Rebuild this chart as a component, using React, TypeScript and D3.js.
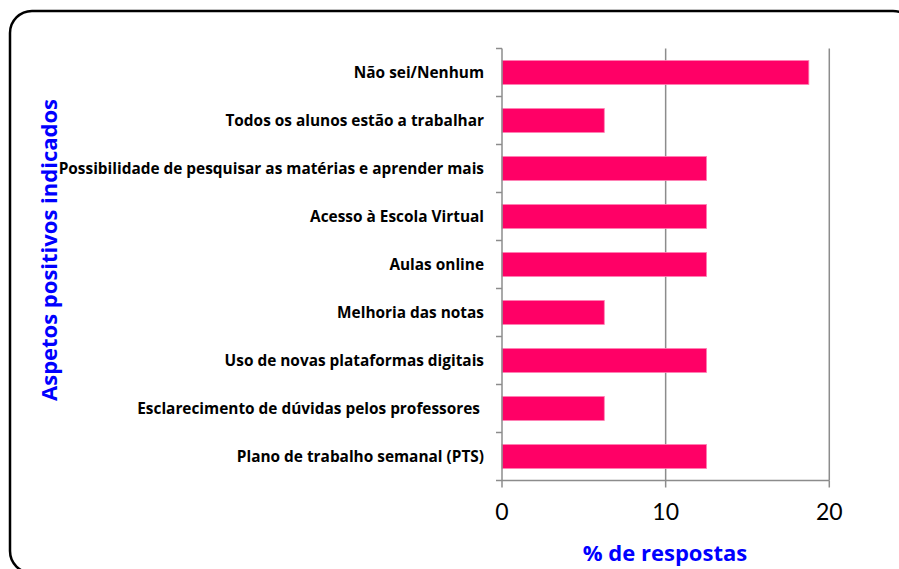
import React from "react";
import * as d3 from "d3";

const categories = [
  "Não sei/Nenhum",
  "Todos os alunos estão a trabalhar",
  "Possibilidade de pesquisar as matérias e aprender mais",
  "Acesso à Escola Virtual",
  "Aulas online",
  "Melhoria das notas",
  "Uso de novas plataformas digitais",
  "Esclarecimento de dúvidas pelos professores ",
  "Plano de trabalho semanal (PTS)",
];
const values = [18.75, 6.25, 12.5, 12.5, 12.5, 6.25, 12.5, 6.25, 12.5];
const xTicks = [0, 10, 20];
const xTitle = "% de respostas";
const yTitle = "Aspetos positivos indicados";

const W = 899;
const H = 569;
const font = "'Open Sans', sans-serif";
const tickFont = "Lato, sans-serif";

export default function App() {
  const x = d3.scaleLinear().domain([0, 20]).range([502, 829.3]);
  const y = d3
    .scaleBand<string>()
    .domain(categories)
    .range([48.5, 480.5])
    .paddingInner(0.5)
    .paddingOuter(0.25);
  const bandStep = y.step();
  const gridColor = "#8c8c8c";
  const bottom = 480.5;
  const top = 48.5;

  return (
    <svg
      width={W}
      height={H}
      style={{ position: "absolute", left: 0, top: 0, background: "#fff" }}
    >
      <rect x={10} y={11} width={905} height={562} rx={22} ry={22} fill="#fff" stroke="#000" strokeWidth={2.5} />
      {xTicks.slice(1).map((t) => (
        <line key={"g" + t} x1={x(t)} x2={x(t)} y1={top} y2={bottom} stroke={gridColor} strokeWidth={1.5} />
      ))}
      {categories.map((c, i) => (
        <rect
          key={c}
          x={x(0)}
          y={y(c)!}
          width={x(values[i]) - x(0)}
          height={y.bandwidth()}
          fill="#FF0066"
          stroke="#ff80b3"
          strokeWidth={0.8}
        />
      ))}
      <line x1={x(0)} x2={x(0)} y1={top} y2={bottom} stroke={gridColor} strokeWidth={1.5} />
      {d3.range(categories.length + 1).map((i) => (
        <line
          key={"yt" + i}
          x1={x(0) - 6}
          x2={x(0)}
          y1={top + i * bandStep}
          y2={top + i * bandStep}
          stroke={gridColor}
          strokeWidth={1.5}
        />
      ))}
      <line x1={x(0)} x2={x(20)} y1={bottom} y2={bottom} stroke={gridColor} strokeWidth={1.5} />
      {xTicks.map((t) => (
        <g key={"xt" + t}>
          <line x1={x(t)} x2={x(t)} y1={bottom} y2={bottom + 7} stroke={gridColor} strokeWidth={1.5} />
          <text x={x(t)} y={520} textAnchor="middle" fontFamily={tickFont} fontSize={23} fill="#000">
            {t}
          </text>
        </g>
      ))}
      {categories.map((c) => (
        <text
          key={"l" + c}
          x={484}
          y={y(c)! + y.bandwidth() / 2 + 5}
          textAnchor="end"
          fontFamily={font}
          fontWeight="bold"
          fontSize={15.4}
          fill="#000"
          style={{ whiteSpace: "pre" }}
        >
          {c}
        </text>
      ))}
      <text x={665} y={561} textAnchor="middle" fontFamily={font} fontWeight="bold" fontSize={22} fill="#0000ff">
        {xTitle}
      </text>
      <text
        transform={`translate(57,250) rotate(-90)`}
        textAnchor="middle"
        fontFamily={font}
        fontWeight="bold"
        fontSize={22}
        fill="#0000ff"
      >
        {yTitle}
      </text>
    </svg>
  );
}
